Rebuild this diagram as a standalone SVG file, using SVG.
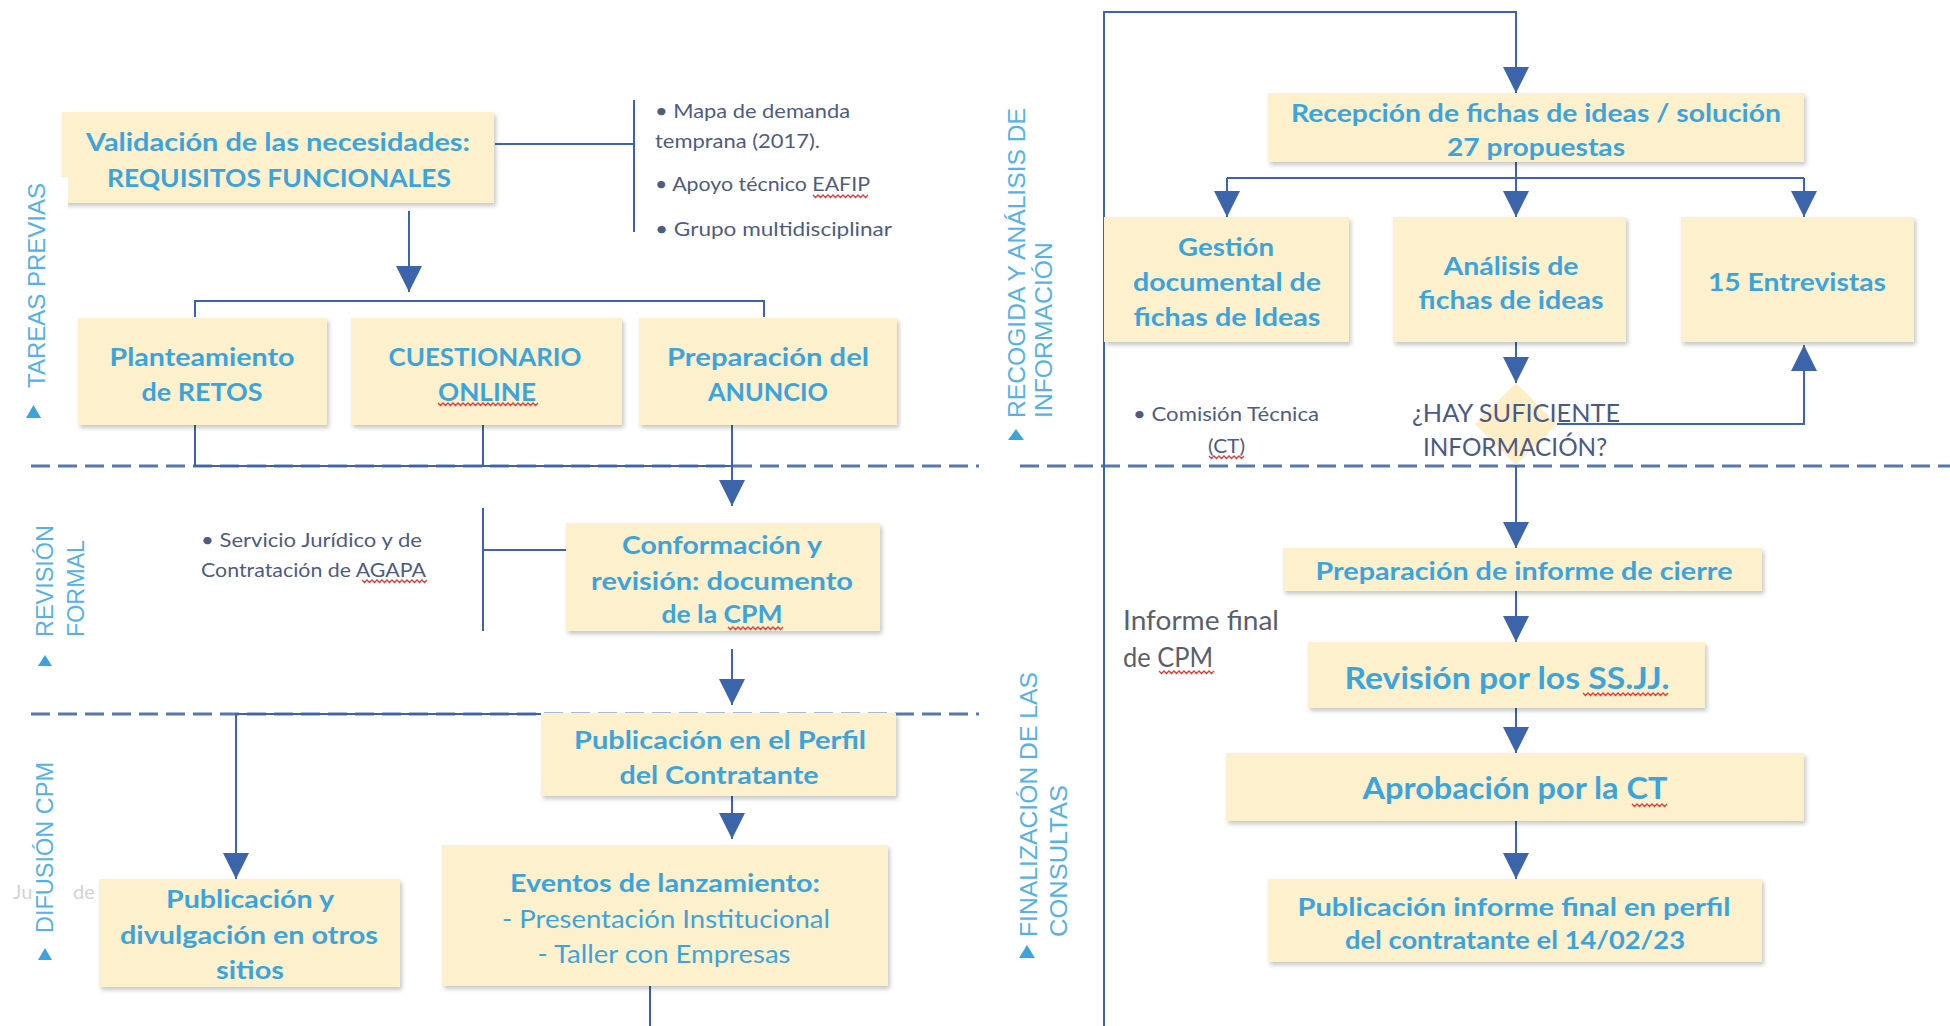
<svg xmlns="http://www.w3.org/2000/svg" width="1950" height="1026" viewBox="0 0 1950 1026">
<style>
.box{fill:#fdf0cc;filter:url(#sh)}
.t{font-family:Lato,"Open Sans","Liberation Sans",sans-serif;font-weight:700;fill:#3ba4dd;text-anchor:middle;font-size:25px}
.tr{font-family:Lato,"Open Sans","Liberation Sans",sans-serif;font-weight:400;fill:#3ba4dd;text-anchor:middle;font-size:25px}
.n{font-family:Lato,"Open Sans","Liberation Sans",sans-serif;font-weight:400;fill:#4e5c80;font-size:19px}
.q{font-family:Lato,"Open Sans","Liberation Sans",sans-serif;font-weight:400;fill:#4a5a86;font-size:25px}
.g{font-family:Lato,"Open Sans","Liberation Sans",sans-serif;font-weight:400;fill:#5a5f6a;font-size:26px}
.lane{font-family:"Liberation Sans",Arial,sans-serif;fill:#55b2e6;font-size:24px}
.tri{fill:#3ba4dd}
.c{stroke:#3c64aa;stroke-width:2;fill:none}
.d{stroke:#5578b2;stroke-width:3;stroke-dasharray:19 8;fill:none}
.sq{stroke:#e03a3a;stroke-width:1.3;fill:none}
</style>
<defs>
<filter id="sh" x="-5%" y="-5%" width="115%" height="130%">
<feDropShadow dx="2" dy="3" stdDeviation="2" flood-color="#000" flood-opacity="0.22"/>
</filter>
<marker id="ah" markerUnits="userSpaceOnUse" markerWidth="26" markerHeight="26" viewBox="0 0 26 26" refX="26" refY="13" orient="auto">
<path d="M0,0 L26,13 L0,26 z" fill="#3c64aa"/>
</marker>
</defs>
<rect width="1950" height="1026" fill="#ffffff"/>

<g id="lanes">
<path class="d" d="M31,466 H979"/>
<path class="d" d="M1020,466 H1950"/>
<path class="d" d="M31,714 H979"/>
</g>

<g id="connectors">
<path class="c" d="M1104,1026 V12 H1516 V93" marker-end="url(#ah)"/>
<path class="c" d="M1516,162 V217" marker-end="url(#ah)"/>
<path class="c" d="M1227,178 H1804"/>
<path class="c" d="M1227,178 V217" marker-end="url(#ah)"/>
<path class="c" d="M1804,178 V217" marker-end="url(#ah)"/>
<path class="c" d="M1516,342 V383" marker-end="url(#ah)"/>
<path class="c" d="M1557,424 H1804 V345" marker-end="url(#ah)"/>
<path class="c" d="M1516,465 V548" marker-end="url(#ah)"/>
<path class="c" d="M1516,591 V642" marker-end="url(#ah)"/>
<path class="c" d="M1516,708 V753" marker-end="url(#ah)"/>
<path class="c" d="M1516,821 V879" marker-end="url(#ah)"/>
<path class="c" d="M495,144 H634"/>
<path class="c" d="M634,100 V232"/>
<path class="c" d="M409,211 V292" marker-end="url(#ah)"/>
<path class="c" d="M195,317 V301 H764 V317"/>
<path class="c" d="M195,425 V466 H732"/>
<path class="c" d="M483,425 V466"/>
<path class="c" d="M732,425 V506" marker-end="url(#ah)"/>
<path class="c" d="M483,508 V631"/>
<path class="c" d="M483,550 H566"/>
<path class="c" d="M732,649 V705" marker-end="url(#ah)"/>
<path class="c" d="M732,714 H236 V879" marker-end="url(#ah)"/>
<path class="c" d="M732,796 V839" marker-end="url(#ah)"/>
<path class="c" d="M650,986 V1026"/>
</g>

<g id="n-validacion">
<rect class="box" x="62" y="112" width="432" height="91"/>
<text class="t" x="278" y="151" textLength="384" lengthAdjust="spacingAndGlyphs">Validación de las necesidades:</text>
<text class="t" x="279" y="187" textLength="344" lengthAdjust="spacingAndGlyphs">REQUISITOS FUNCIONALES</text>
</g>

<rect x="0" y="177" width="68" height="260" fill="#ffffff"/>

<g id="lane-labels">
<polygon class="tri" points="26,418 41,418 33.5,405"/>
<text class="lane" transform="translate(45,388) rotate(-90)" textLength="205" lengthAdjust="spacingAndGlyphs">TAREAS PREVIAS</text>
<polygon class="tri" points="1008,440 1024,440 1016,429"/>
<text class="lane" transform="translate(1025,418) rotate(-90)" textLength="310" lengthAdjust="spacingAndGlyphs">RECOGIDA Y ANÁLISIS DE</text>
<text class="lane" transform="translate(1052,418) rotate(-90)" textLength="176" lengthAdjust="spacingAndGlyphs">INFORMACIÓN</text>
<polygon class="tri" points="38,666 52,666 45,655"/>
<text class="lane" transform="translate(53,637) rotate(-90)" textLength="112" lengthAdjust="spacingAndGlyphs">REVISIÓN</text>
<text class="lane" transform="translate(84,637) rotate(-90)" textLength="97" lengthAdjust="spacingAndGlyphs">FORMAL</text>
<polygon class="tri" points="38,960 52,960 45,948"/>
<text class="lane" transform="translate(53,933) rotate(-90)" textLength="171" lengthAdjust="spacingAndGlyphs">DIFUSIÓN CPM</text>
<polygon class="tri" points="1019,958 1035,958 1027,945"/>
<text class="lane" transform="translate(1037,937) rotate(-90)" textLength="265" lengthAdjust="spacingAndGlyphs">FINALIZACIÓN DE LAS</text>
<text class="lane" transform="translate(1067,937) rotate(-90)" textLength="152" lengthAdjust="spacingAndGlyphs">CONSULTAS</text>
</g>

<g id="n-planteamiento">
<rect class="box" x="78" y="318" width="249" height="107"/>
<text class="t" x="202" y="366" textLength="185" lengthAdjust="spacingAndGlyphs">Planteamiento</text>
<text class="t" x="202" y="401" textLength="121" lengthAdjust="spacingAndGlyphs">de RETOS</text>
</g>
<g id="n-cuestionario">
<rect class="box" x="351" y="318" width="271" height="107"/>
<text class="t" x="485" y="366" textLength="193" lengthAdjust="spacingAndGlyphs">CUESTIONARIO</text>
<text class="t" x="487" y="401" textLength="98" lengthAdjust="spacingAndGlyphs">ONLINE</text>
</g>
<g id="n-anuncio">
<rect class="box" x="639" y="318" width="258" height="107"/>
<text class="t" x="768" y="366" textLength="202" lengthAdjust="spacingAndGlyphs">Preparación del</text>
<text class="t" x="768" y="401" textLength="120" lengthAdjust="spacingAndGlyphs">ANUNCIO</text>
</g>

<g id="n-bullets-tareas">
<text class="n" x="655" y="118" textLength="195" lengthAdjust="spacingAndGlyphs">• Mapa de demanda</text>
<text class="n" x="655" y="148" textLength="165" lengthAdjust="spacingAndGlyphs">temprana (2017).</text>
<text class="n" x="655" y="191" textLength="215" lengthAdjust="spacingAndGlyphs">• Apoyo técnico EAFIP</text>
<text class="n" x="655" y="236" textLength="237" lengthAdjust="spacingAndGlyphs">• Grupo multidisciplinar</text>
</g>

<g id="n-conformacion">
<rect class="box" x="566" y="523" width="314" height="108"/>
<text class="t" x="722" y="554" textLength="200" lengthAdjust="spacingAndGlyphs">Conformación y</text>
<text class="t" x="722" y="590" textLength="262" lengthAdjust="spacingAndGlyphs">revisión: documento</text>
<text class="t" x="722" y="623" textLength="121" lengthAdjust="spacingAndGlyphs">de la CPM</text>
</g>

<g id="n-servicio">
<text class="n" x="201" y="547" textLength="221" lengthAdjust="spacingAndGlyphs">• Servicio Jurídico y de</text>
<text class="n" x="201" y="577" textLength="225" lengthAdjust="spacingAndGlyphs">Contratación de AGAPA</text>
</g>

<g id="n-perfil">
<rect class="box" x="541" y="713" width="355" height="83"/>
<text class="t" x="720" y="749" textLength="292" lengthAdjust="spacingAndGlyphs">Publicación en el Perfil</text>
<text class="t" x="719" y="784" textLength="199" lengthAdjust="spacingAndGlyphs">del Contratante</text>
</g>

<g id="n-eventos">
<rect class="box" x="442" y="845" width="446" height="141"/>
<text class="t" x="665" y="892" textLength="310" lengthAdjust="spacingAndGlyphs">Eventos de lanzamiento:</text>
<text class="tr" x="666" y="928" textLength="328" lengthAdjust="spacingAndGlyphs">- Presentación Institucional</text>
<text class="tr" x="664" y="963" textLength="253" lengthAdjust="spacingAndGlyphs">- Taller con Empresas</text>
</g>

<g id="n-divulgacion">
<text x="13" y="899" font-family="Lato,'Liberation Sans',sans-serif" font-size="20" fill="#d2d2d2">Ju</text>
<text x="73" y="899" font-family="Lato,'Liberation Sans',sans-serif" font-size="20" fill="#d2d2d2">de</text>
<rect class="box" x="99" y="879" width="301" height="108"/>
<text class="t" x="250" y="908" textLength="168" lengthAdjust="spacingAndGlyphs">Publicación y</text>
<text class="t" x="249" y="944" textLength="258" lengthAdjust="spacingAndGlyphs">divulgación en otros</text>
<text class="t" x="250" y="979" textLength="68" lengthAdjust="spacingAndGlyphs">sitios</text>
</g>

<g id="n-recepcion">
<rect class="box" x="1268" y="93" width="536" height="69"/>
<text class="t" x="1536" y="122" textLength="490" lengthAdjust="spacingAndGlyphs">Recepción de fichas de ideas / solución</text>
<text class="t" x="1536" y="156" textLength="178" lengthAdjust="spacingAndGlyphs">27 propuestas</text>
</g>
<g id="n-gestion">
<rect class="box" x="1104" y="217" width="245" height="125"/>
<text class="t" x="1226" y="256" textLength="96" lengthAdjust="spacingAndGlyphs">Gestión</text>
<text class="t" x="1227" y="291" textLength="188" lengthAdjust="spacingAndGlyphs">documental de</text>
<text class="t" x="1227" y="326" textLength="187" lengthAdjust="spacingAndGlyphs">fichas de Ideas</text>
</g>
<g id="n-analisis">
<rect class="box" x="1393" y="217" width="233" height="125"/>
<text class="t" x="1511" y="275" textLength="135" lengthAdjust="spacingAndGlyphs">Análisis de</text>
<text class="t" x="1511" y="309" textLength="185" lengthAdjust="spacingAndGlyphs">fichas de ideas</text>
</g>
<g id="n-entrevistas">
<rect class="box" x="1681" y="217" width="233" height="125"/>
<text class="t" x="1797" y="291" textLength="178" lengthAdjust="spacingAndGlyphs">15 Entrevistas</text>
</g>

<g id="n-decision">
<polygon points="1516,383 1557,424 1516,465 1475,424" fill="#fdeec6"/>
<text class="q" x="1412" y="422" textLength="208" lengthAdjust="spacingAndGlyphs">¿HAY SUFICIENTE</text>
<text class="q" x="1423" y="456" textLength="184" lengthAdjust="spacingAndGlyphs">INFORMACIÓN?</text>
</g>

<g id="n-comision">
<text class="n" x="1133" y="421" textLength="186" lengthAdjust="spacingAndGlyphs">• Comisión Técnica</text>
<text class="n" x="1208" y="453" textLength="37" lengthAdjust="spacingAndGlyphs">(CT)</text>
</g>

<g id="n-prep-informe">
<rect class="box" x="1283" y="548" width="479" height="43"/>
<text class="t" x="1524" y="580" textLength="417" lengthAdjust="spacingAndGlyphs">Preparación de informe de cierre</text>
</g>
<g id="n-revision">
<rect class="box" x="1308" y="642" width="397" height="66"/>
<text class="t" x="1507" y="689" font-size="30" style="font-size:30px" textLength="325" lengthAdjust="spacingAndGlyphs">Revisión por los SS.JJ.</text>
</g>
<g id="n-aprobacion">
<rect class="box" x="1226" y="753" width="578" height="68"/>
<text class="t" x="1515" y="799" style="font-size:30px" textLength="305" lengthAdjust="spacingAndGlyphs">Aprobación por la CT</text>
</g>
<g id="n-publicacion-final">
<rect class="box" x="1268" y="879" width="494" height="83"/>
<text class="t" x="1514" y="916" textLength="433" lengthAdjust="spacingAndGlyphs">Publicación informe final en perfil</text>
<text class="t" x="1515" y="949" textLength="340" lengthAdjust="spacingAndGlyphs">del contratante el 14/02/23</text>
</g>

<g id="n-informe-final">
<text class="g" x="1123" y="630" textLength="156" lengthAdjust="spacingAndGlyphs">Informe final</text>
<text class="g" x="1123" y="667" textLength="90" lengthAdjust="spacingAndGlyphs">de CPM</text>
</g>

<g id="spell-marks">
<path class="sq" d="M438,403 l2.5,2.5 2.5,-2.5 2.5,2.5 2.5,-2.5 2.5,2.5 2.5,-2.5 2.5,2.5 2.5,-2.5 2.5,2.5 2.5,-2.5 2.5,2.5 2.5,-2.5 2.5,2.5 2.5,-2.5 2.5,2.5 2.5,-2.5 2.5,2.5 2.5,-2.5 2.5,2.5 2.5,-2.5 2.5,2.5 2.5,-2.5 2.5,2.5 2.5,-2.5 2.5,2.5 2.5,-2.5 2.5,2.5 2.5,-2.5 2.5,2.5 2.5,-2.5 2.5,2.5 2.5,-2.5 2.5,2.5 2.5,-2.5 2.5,2.5 2.5,-2.5 2.5,2.5 2.5,-2.5 2.5,2.5 2.5,-2.5"/>
<path class="sq" d="M813,195 l2.5,2.5 2.5,-2.5 2.5,2.5 2.5,-2.5 2.5,2.5 2.5,-2.5 2.5,2.5 2.5,-2.5 2.5,2.5 2.5,-2.5 2.5,2.5 2.5,-2.5 2.5,2.5 2.5,-2.5 2.5,2.5 2.5,-2.5 2.5,2.5 2.5,-2.5 2.5,2.5 2.5,-2.5 2.5,2.5 2.5,-2.5"/>
<path class="sq" d="M362,580 l2.5,2.5 2.5,-2.5 2.5,2.5 2.5,-2.5 2.5,2.5 2.5,-2.5 2.5,2.5 2.5,-2.5 2.5,2.5 2.5,-2.5 2.5,2.5 2.5,-2.5 2.5,2.5 2.5,-2.5 2.5,2.5 2.5,-2.5 2.5,2.5 2.5,-2.5 2.5,2.5 2.5,-2.5 2.5,2.5 2.5,-2.5 2.5,2.5 2.5,-2.5 2.5,2.5 2.5,-2.5"/>
<path class="sq" d="M728,627 l2.5,2.5 2.5,-2.5 2.5,2.5 2.5,-2.5 2.5,2.5 2.5,-2.5 2.5,2.5 2.5,-2.5 2.5,2.5 2.5,-2.5 2.5,2.5 2.5,-2.5 2.5,2.5 2.5,-2.5 2.5,2.5 2.5,-2.5 2.5,2.5 2.5,-2.5 2.5,2.5 2.5,-2.5 2.5,2.5 2.5,-2.5"/>
<path class="sq" d="M1209,456 l2.5,2.5 2.5,-2.5 2.5,2.5 2.5,-2.5 2.5,2.5 2.5,-2.5 2.5,2.5 2.5,-2.5 2.5,2.5 2.5,-2.5 2.5,2.5 2.5,-2.5 2.5,2.5 2.5,-2.5"/>
<path class="sq" d="M1583,693 l2.5,2.5 2.5,-2.5 2.5,2.5 2.5,-2.5 2.5,2.5 2.5,-2.5 2.5,2.5 2.5,-2.5 2.5,2.5 2.5,-2.5 2.5,2.5 2.5,-2.5 2.5,2.5 2.5,-2.5 2.5,2.5 2.5,-2.5 2.5,2.5 2.5,-2.5 2.5,2.5 2.5,-2.5 2.5,2.5 2.5,-2.5 2.5,2.5 2.5,-2.5 2.5,2.5 2.5,-2.5 2.5,2.5 2.5,-2.5 2.5,2.5 2.5,-2.5 2.5,2.5 2.5,-2.5 2.5,2.5 2.5,-2.5"/>
<path class="sq" d="M1632,804 l2.5,2.5 2.5,-2.5 2.5,2.5 2.5,-2.5 2.5,2.5 2.5,-2.5 2.5,2.5 2.5,-2.5 2.5,2.5 2.5,-2.5 2.5,2.5 2.5,-2.5 2.5,2.5 2.5,-2.5"/>
<path class="sq" d="M1159,671 l2.5,2.5 2.5,-2.5 2.5,2.5 2.5,-2.5 2.5,2.5 2.5,-2.5 2.5,2.5 2.5,-2.5 2.5,2.5 2.5,-2.5 2.5,2.5 2.5,-2.5 2.5,2.5 2.5,-2.5 2.5,2.5 2.5,-2.5 2.5,2.5 2.5,-2.5 2.5,2.5 2.5,-2.5 2.5,2.5 2.5,-2.5"/>
</g>
</svg>
